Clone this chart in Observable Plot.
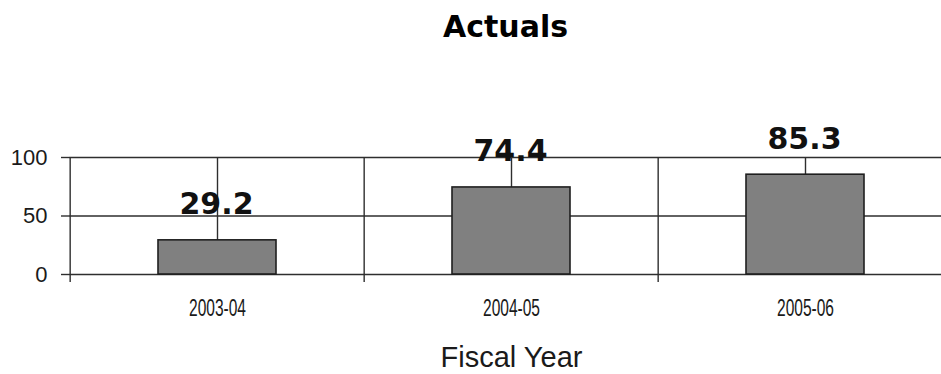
<!DOCTYPE html>
<html>
<head>
<meta charset="utf-8">
<script src="https://cdn.jsdelivr.net/npm/d3@7"></script>
<script src="https://cdn.jsdelivr.net/npm/@observablehq/plot@0.6"></script>
<style>
  body { margin: 0; background: #fff; }
  #wrap { position: relative; width: 941px; height: 374px; overflow: hidden; background: #fff; }
  #title {
    position: absolute; left: 70px; right: 0; top: 12px; z-index: 2;
    text-align: center; font: bold 30px/30px "DejaVu Sans", sans-serif; color: #000;
  }
  #chart { position: absolute; left: 0; top: 0; z-index: 1; }
</style>
</head>
<body>
<div id="wrap">
  <div id="title">Actuals</div>
  <div id="chart"></div>
</div>
<script>
// Fiscal years and the actual values for each
const years = ["2003-04", "2004-05", "2005-06"];
const actuals = [29.2, 74.4, 85.3];
const yTicks = [0, 50, 100];
const xTitle = ["Fiscal Year"];

const data = years.map((year, i) => ({year, value: actuals[i]}));

const width = 941, height = 374;
const marginLeft = 69, marginRight = -12, marginTop = 157, marginBottom = 100;
// half a category step, used to put the divider lines between the fiscal years
const halfStep = (width - marginLeft - marginRight) / years.length / 2;
const lineColor = "#2e2e2e";

const chart = Plot.plot({
  width, height, marginLeft, marginRight, marginTop, marginBottom,
  style: {fontFamily: "'Liberation Sans', Arial, sans-serif", color: "#1a1a1a", background: "transparent"},
  x: {domain: years, paddingInner: 0.6, paddingOuter: 0.3},
  y: {domain: [0, 100]},
  marks: [
    Plot.ruleY(yTicks, {stroke: lineColor, strokeWidth: 1.4}),
    Plot.ruleX(years, {x: d => d, y1: 100, y2: 0, stroke: lineColor, strokeWidth: 1.4}),
    Plot.ruleX(years, {x: d => d, dx: -halfStep, insetBottom: -8, stroke: lineColor, strokeWidth: 1.4}),
    Plot.barY(data, {x: "year", y: "value", fill: "#808080", stroke: "#1f1f1f", strokeWidth: 1.6}),
    Plot.text(data, {
      x: "year", y: "value", text: d => d.value.toFixed(1),
      lineAnchor: "bottom", dy: -26, dx: -1, fontSize: 30, fontWeight: "bold",
      fontFamily: "'DejaVu Sans', sans-serif", fill: "#111"
    }),
    Plot.axisY(yTicks, {tickSize: 8, tickPadding: 14, fontSize: 22, stroke: lineColor, strokeWidth: 1.4, label: null}),
    Plot.axisX({tickSize: 0, tickPadding: 24, fontSize: 24, label: null}),
    Plot.text(xTitle, {frameAnchor: "bottom", text: d => d, lineAnchor: "top", dy: 72, fontSize: 29, fill: "#1a1a1a"})
  ]
});

// the fiscal-year tick labels are set in a condensed width
d3.select(chart).selectAll('[aria-label="x-axis tick label"] text')
  .attr("textLength", 57)
  .attr("lengthAdjust", "spacingAndGlyphs");

document.getElementById("chart").appendChild(chart);
</script>
</body>
</html>
